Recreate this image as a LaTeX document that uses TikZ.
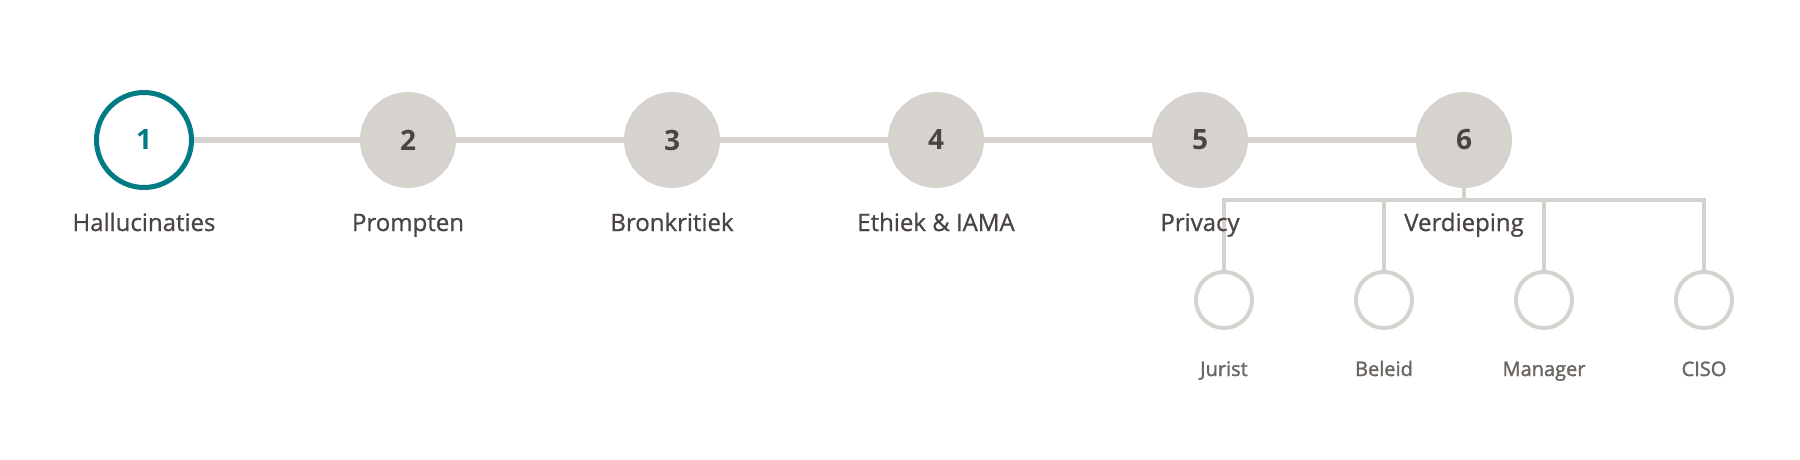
\documentclass[tikz,border=0pt]{standalone}
\usepackage{fontspec}
\setmainfont{Open Sans}
\newfontfamily\labfont[FakeBold=0.8]{Open Sans}
\newfontfamily\subfont[FakeBold=1.6]{Open Sans}
\definecolor{teal}{HTML}{007A85}
\definecolor{stone}{HTML}{D6D2CD}
\definecolor{ink}{HTML}{4A4542}
\definecolor{subink}{HTML}{6B6662}
\tikzset{
  stepnode/.style={circle, fill=stone, draw=none, minimum size=96pt, inner sep=0pt,
    text=ink, font=\fontsize{28}{32}\selectfont\bfseries},
  activenode/.style={circle, fill=white, draw=teal, line width=5pt, minimum size=95pt, inner sep=0pt,
    text=teal, font=\fontsize{28}{32}\selectfont\bfseries},
  steplabel/.style={anchor=base, text=ink, font=\labfont\fontsize{24}{28}\selectfont, inner sep=0pt},
  subnode/.style={circle, fill=white, draw=stone, line width=4pt, minimum size=56pt, inner sep=0pt},
  sublabel/.style={anchor=base, text=subink, font=\subfont\fontsize{20}{24}\selectfont, inner sep=0pt},
  mainline/.style={draw=stone, line width=6pt},
  subline/.style={draw=stone, line width=4pt},
}
\begin{document}
\begin{tikzpicture}[x=1pt,y=-1pt]
\useasboundingbox[fill=white] (0,0) rectangle (1800,460);
% main steps
\node[activenode] (s1) at (144,140) {1};
\node[stepnode] (s2) at (408,140) {2};
\node[stepnode] (s3) at (672,140) {3};
\node[stepnode] (s4) at (936,140) {4};
\node[stepnode] (s5) at (1200,140) {5};
\node[stepnode] (s6) at (1464,140) {6};
\draw[mainline] (s1) -- (s2);
\draw[mainline] (s2) -- (s3);
\draw[mainline] (s3) -- (s4);
\draw[mainline] (s4) -- (s5);
\draw[mainline] (s5) -- (s6);
% labels
\node[steplabel] (l1) at (144,231) {Hallucinaties};
\node[steplabel] (l2) at (408,231) {Prompten};
\node[steplabel] (l3) at (672,231) {Bronkritiek};
\node[steplabel] (l4) at (936,231) {Ethiek \& IAMA};
% sub nodes
\node[subnode] (c1) at (1224,300) {};
\node[subnode] (c2) at (1384,300) {};
\node[subnode] (c3) at (1544,300) {};
\node[subnode] (c4) at (1704,300) {};
\coordinate (hb) at (1464,200);
\draw[subline] (s6) -- (hb);
\draw[subline] (c1) -- (c1 |- hb) -- (c4 |- hb) -- (c4);
\draw[subline] (c2) -- (c2 |- hb);
\draw[subline] (c3) -- (c3 |- hb);
\node[steplabel] (l5) at (1200,231) {Privacy};
\node[steplabel] (l6) at (1464,231) {Verdieping};
\node[sublabel] (t1) at (1224,376) {Jurist};
\node[sublabel] (t2) at (1384,376) {Beleid};
\node[sublabel] (t3) at (1544,376) {Manager};
\node[sublabel] (t4) at (1704,376) {CISO};
\end{tikzpicture}
\end{document}
